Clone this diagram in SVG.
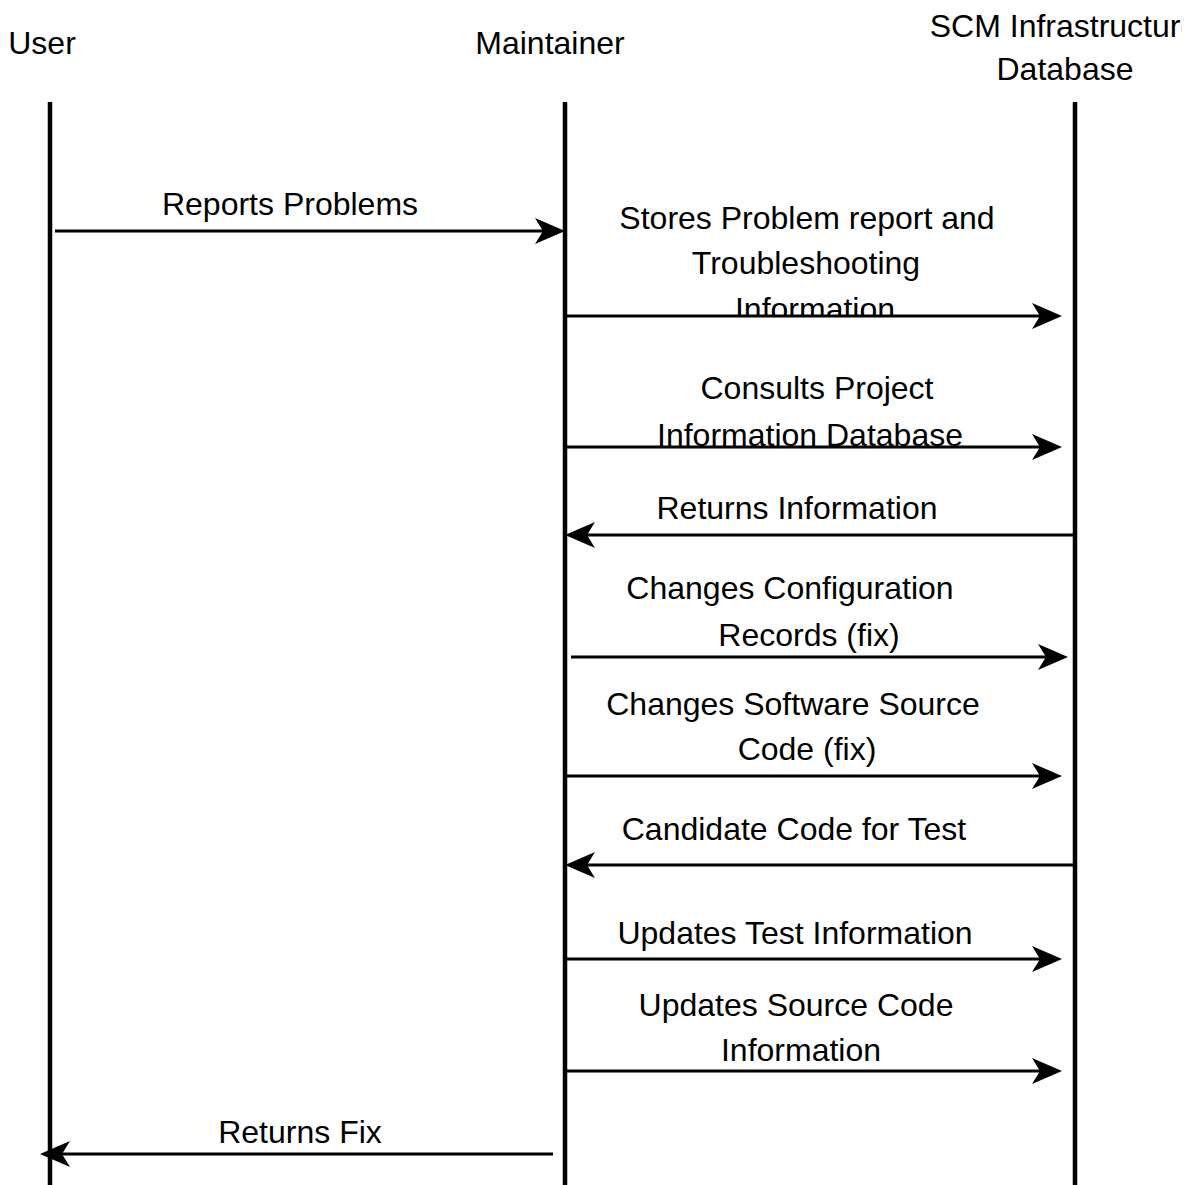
<svg xmlns="http://www.w3.org/2000/svg" width="1197" height="1185" viewBox="0 0 1197 1185">
  <style>
    text { font-family: "Liberation Sans", Arial, sans-serif; font-size: 32px; fill: #000; text-anchor: middle; }
    .life { stroke: #000; stroke-width: 4.5; fill: none; }
    .msg { stroke: #000; stroke-width: 3; fill: none; marker-end: url(#ah); }
  </style>
  <defs>
    <marker id="ah" markerUnits="userSpaceOnUse" markerWidth="34" markerHeight="30" viewBox="-32 -15 34 30" refX="-20" refY="0" orient="auto" overflow="visible">
      <path d="M0,0 L-30,-13 L-22,0 L-30,13 Z" fill="#000"/>
    </marker>
    <clipPath id="clipStores"><rect x="560" y="180" width="520" height="135"/></clipPath>
    <clipPath id="clipConsults"><rect x="560" y="360" width="520" height="86"/></clipPath>
    <clipPath id="clipHeader"><rect x="880" y="0" width="302" height="100"/></clipPath>
  </defs>

  <g id="user">
    <text x="42" y="54">User</text>
    <line class="life" x1="50" y1="102" x2="50" y2="1185"/>
  </g>
  <g id="maintainer">
    <text x="550" y="54">Maintainer</text>
    <line class="life" x1="565" y1="102" x2="565" y2="1185"/>
  </g>
  <g id="scm">
    <g clip-path="url(#clipHeader)">
      <text x="1064" y="37">SCM Infrastructure</text>
      <text x="1065" y="80">Database</text>
    </g>
    <line class="life" x1="1075" y1="102" x2="1075" y2="1185"/>
  </g>

  <g id="connectors">
    <line class="msg" x1="55" y1="231" x2="545" y2="231"/>
    <line class="msg" x1="567" y1="316" x2="1042" y2="316"/>
    <line class="msg" x1="567" y1="447" x2="1042" y2="447"/>
    <line class="msg" x1="1075" y1="535" x2="585" y2="535"/>
    <line class="msg" x1="571" y1="657" x2="1048" y2="657"/>
    <line class="msg" x1="567" y1="776" x2="1042" y2="776"/>
    <line class="msg" x1="1075" y1="865" x2="585" y2="865"/>
    <line class="msg" x1="567" y1="959" x2="1042" y2="959"/>
    <line class="msg" x1="567" y1="1071" x2="1042" y2="1071"/>
    <line class="msg" x1="553" y1="1154" x2="60" y2="1154"/>
  </g>

  <g id="labels">
    <text x="290" y="215">Reports Problems</text>
    <g clip-path="url(#clipStores)">
      <text x="807" y="229">Stores Problem report and</text>
      <text x="806" y="274">Troubleshooting</text>
      <text x="815" y="320">Information</text>
    </g>
    <g clip-path="url(#clipConsults)">
      <text x="817" y="399">Consults Project</text>
      <text x="810" y="446">Information Database</text>
    </g>
    <text x="797" y="519">Returns Information</text>
    <text x="790" y="599">Changes Configuration</text>
    <text x="809" y="646">Records (fix)</text>
    <text x="793" y="715">Changes Software Source</text>
    <text x="807" y="760">Code (fix)</text>
    <text x="794" y="840">Candidate Code for Test</text>
    <text x="795" y="944">Updates Test Information</text>
    <text x="796" y="1016">Updates Source Code</text>
    <text x="801" y="1061">Information</text>
    <text x="300" y="1143">Returns Fix</text>
  </g>
</svg>
